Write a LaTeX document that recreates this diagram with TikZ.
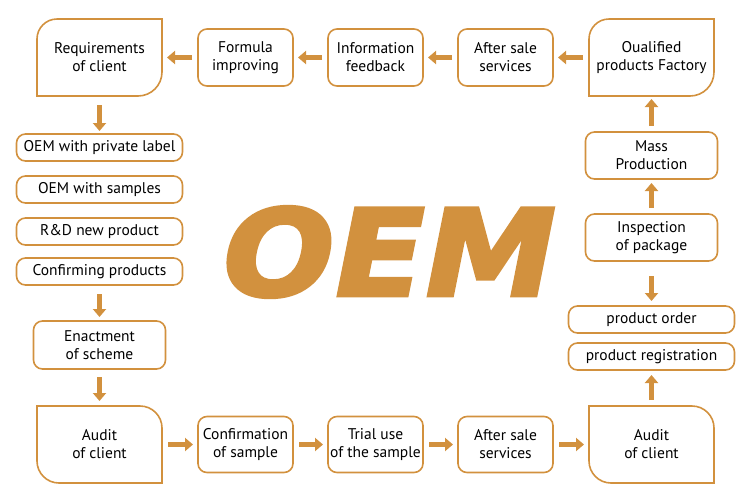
\documentclass[tikz,border=0pt]{standalone}
\usepackage{fontspec}
\setmainfont{PT Sans}
\newfontfamily\logofont[FakeSlant=0.2,FakeBold=3,FakeStretch=1.1]{DejaVu Sans}
\usetikzlibrary{arrows.meta,positioning}
\definecolor{orng}{RGB}{210,145,62}

\begin{document}
\begin{tikzpicture}[
    x=1pt, y=-1pt,
    node distance=35pt,
    font=\fontsize{15.5}{18}\selectfont,
    stepbox/.style={draw=orng, line width=1.6pt, outer sep=0pt, rounded corners=9pt, minimum width=95pt, minimum height=57pt, align=center, inner sep=1pt},
    tallbox/.style={stepbox, minimum width=132pt, minimum height=47pt},
    listbox/.style={draw=orng, line width=1.6pt, outer sep=0pt, rounded corners=9pt, minimum width=166pt, minimum height=27pt, inner sep=1pt},
    cornerbox/.style={minimum width=125pt, minimum height=77pt, align=center, inner sep=1pt, outer sep=0pt},
    cornerline/.style={draw=orng, line width=1.6pt},
    flow/.style={-{Triangle[length=8pt,width=13pt]}, line width=5pt, draw=orng, shorten <=6pt, shorten >=5pt}
]
    \useasboundingbox (0,0) rectangle (750,499);

    % top row
    \node[cornerbox] (req) at (99.5,57.5) {Requirements\\of client};
    \node[stepbox, right=36pt of req] (formula) {Formula\\improving};
    \node[stepbox, right=of formula] (info) {Information\\feedback};
    \node[stepbox, right=of info] (aftertop) {After sale\\services};
    \node[cornerbox, right=36pt of aftertop] (factory) {Oualified\\products Factory};

    % left column
    \node[listbox, below=38pt of req] (private) {OEM with private label};
    \node[listbox, below=15pt of private] (samples) {OEM with samples};
    \node[listbox, below=15pt of samples] (rnd) {R\&D new product};
    \node[listbox, below=13pt of rnd] (confirm) {Confirming products};
    \node[tallbox, below=36pt of confirm, minimum height=48pt] (scheme) {Enactment\\of scheme};
    \node[cornerbox, below=37pt of scheme] (auditl) {Audit\\of client};

    % bottom row
    \node[stepbox, right=36pt of auditl, minimum height=56pt] (confsample) {Confirmation\\of sample};
    \node[stepbox, right=of confsample, minimum height=56pt] (trial) {Trial use\\of the sample};
    \node[stepbox, right=of trial, minimum height=56pt] (afterbot) {After sale\\services};
    \node[cornerbox, right=36pt of afterbot] (auditr) {Audit\\of client};

    % right column
    \node[tallbox, below=36pt of factory] (mass) {Mass\\Production};
    \node[tallbox, below=35pt of mass] (inspect) {Inspection\\of package};
    \node[listbox, below=45pt of inspect] (order) {product order};
    \node[listbox, below=10pt of order] (regist) {product registration};

    % outlines of the corner boxes
    \foreach \n in {req,factory}
        \draw[cornerline] (\n.south west) -- ([yshift=-20pt]\n.north west) arc[start angle=180,end angle=90,radius=20pt]
            -- (\n.north east) -- ([yshift=24pt]\n.south east) arc[start angle=0,end angle=-90,radius=24pt] -- cycle;
    \foreach \n in {auditl,auditr}
        \draw[cornerline] (\n.north west) -- ([xshift=-22pt]\n.north east) arc[start angle=90,end angle=0,radius=22pt]
            -- (\n.south east) -- ([xshift=22pt]\n.south west) arc[start angle=270,end angle=180,radius=22pt] -- cycle;

    % logo
    \node[text=orng, inner sep=0pt] (logo) at (381,252) {\logofont\bfseries\fontsize{120}{120}\selectfont OEM};

    % arrows
    \draw[flow] (formula) -- (req);
    \draw[flow] (info) -- (formula);
    \draw[flow] (aftertop) -- (info);
    \draw[flow] (factory) -- (aftertop);
    \draw[flow, shorten <=9pt, shorten >=3pt] (req) -- (private);
    \draw[flow, shorten <=9pt, shorten >=4pt] (confirm) -- (scheme);
    \draw[flow, shorten <=8pt] (scheme) -- (auditl);
    \draw[flow] (auditl) -- (confsample);
    \draw[flow] (confsample) -- (trial);
    \draw[flow] (trial) -- (afterbot);
    \draw[flow] (afterbot) -- (auditr);
    \draw[flow] (auditr) -- (regist);
    \draw[flow, shorten <=15pt, shorten >=5pt] (inspect) -- (order);
    \draw[flow, shorten >=4pt] (inspect) -- (mass);
    \draw[flow, shorten >=3pt] (mass) -- (factory);
\end{tikzpicture}
\end{document}
